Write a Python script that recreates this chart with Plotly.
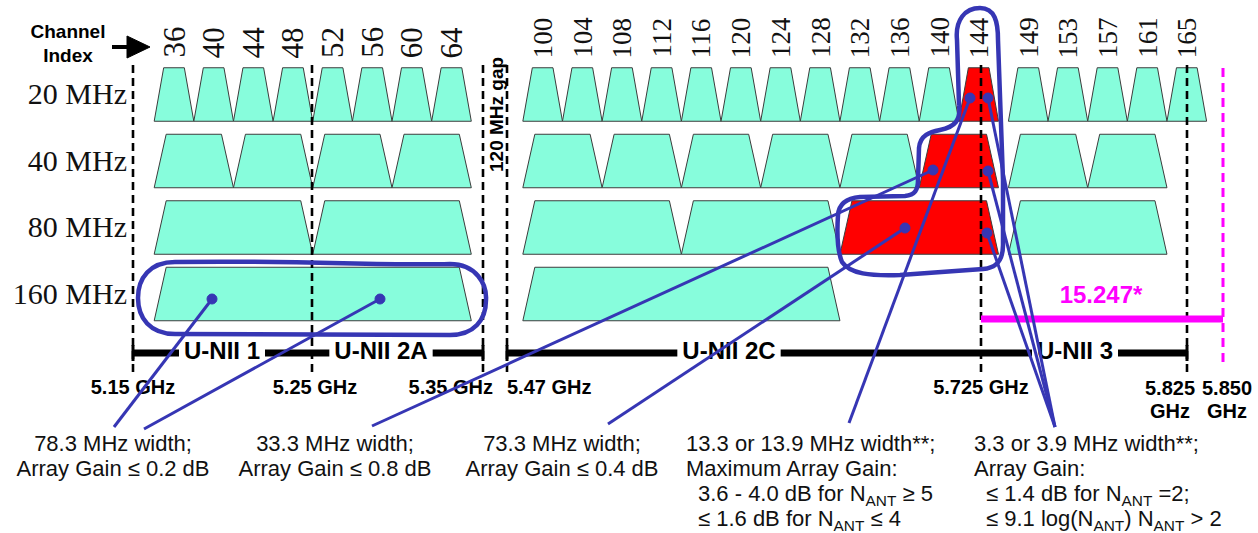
import plotly.graph_objects as go

# ======================= DATA =======================
bandwidths = [20, 40, 80, 160]
row_labels = ["20 MHz", "40 MHz", "80 MHz", "160 MHz"]
ch20 = [36, 40, 44, 48, 52, 56, 60, 64,
        100, 104, 108, 112, 116, 120, 124, 128, 132, 136, 140, 144,
        149, 153, 157, 161, 165]
ch40 = [38, 46, 54, 62, 102, 110, 118, 126, 134, 142, 151, 159]
ch80 = [42, 58, 106, 122, 138, 155]
ch160 = [50, 114]
straddle_channels = [144, 142, 138]          # channels crossing 5.725 GHz (red)
index_labels = ch20
edge_ghz = [5.15, 5.25, 5.35, 5.47, 5.725, 5.825, 5.850]
unii_names = ["U-NII 1", "U-NII 2A", "U-NII 2C", "U-NII 3"]
callout_lines = [
    ["78.3 MHz width;", "Array Gain \u2264 0.2 dB"],
    ["33.3 MHz width;", "Array Gain \u2264 0.8 dB"],
    ["73.3 MHz width;", "Array Gain \u2264 0.4 dB"],
    ["13.3 or 13.9 MHz width**;", "Maximum Array Gain:",
     "3.6 - 4.0 dB for N<sub>ANT</sub> \u2265 5", "\u2264 1.6 dB for N<sub>ANT</sub> \u2264 4"],
    ["3.3 or 3.9 MHz width**;", "Array Gain:",
     "\u2264 1.4 dB for N<sub>ANT</sub> =2;", "\u2264 9.1 log(N<sub>ANT</sub>) N<sub>ANT</sub> > 2"],
]
rule_label = "15.247*"

# ======================= LAYOUT / SCALES =======================
W, H = 1258, 533
PXM = 1.982                      # pixels per MHz on the diagram
X0 = 5180 - 174 / PXM            # diagram MHz at the left edge
GAP = 134                        # MHz removed for the 5.35-5.47 GHz gap
ROW0, ROWSTEP = 94.5, 66.5       # pixel centre of first row, row pitch


def XD(px):
    return X0 + px / PXM


def YD(py):
    return (py - ROW0) / ROWSTEP


def eff(f):
    return f - GAP if f > 5400 else f


HALF = 26.75 / ROWSTEP
CYAN = "#87FDDC"
RED = "#FF0000"
BLUE = "#3636B4"
MAG = "#FF00FF"
SANS = "Liberation Sans, Arial, sans-serif"
SERIF = "Liberation Serif, Times New Roman, serif"

edge_pos = [XD(p) for p in (133, 312, 483, 507, 981, 1187, 1223)]

fig = go.Figure()

# ---- channel trapezoids ----
chan_rows = [ch20, ch40, ch80, ch160]
for i, (bw, chs) in enumerate(zip(bandwidths, chan_rows)):
    inset = (9.5 if bw == 20 else 12.0) / PXM
    for ch in chs:
        c = eff(5000 + 5 * ch)
        xs = [c - bw / 2, c - bw / 2 + inset, c + bw / 2 - inset, c + bw / 2, c - bw / 2]
        ys = [i + HALF, i - HALF, i - HALF, i + HALF, i + HALF]
        fig.add_trace(go.Scatter(
            x=xs, y=ys, mode="lines", fill="toself",
            fillcolor=RED if ch in straddle_channels else CYAN,
            line=dict(color="#3c3c3c", width=1),
            hoverinfo="skip", showlegend=False))


def text(x, y, s, size, color="#111111", family=SANS, pos="middle center"):
    fig.add_trace(go.Scatter(
        x=[x], y=[y], mode="text", text=[s], textposition=pos,
        textfont=dict(size=size, color=color, family=family),
        hoverinfo="skip", showlegend=False, cliponaxis=False))


# ---- row labels ----
for i, lab in enumerate(row_labels):
    text(XD(127), i + 2 / ROWSTEP, lab, 30, "#111111", SERIF, "middle left")
# ---- channel index heading ----
text(XD(68), YD(33), "<b>Channel</b>", 19, "#000")
text(XD(68), YD(57), "<b>Index</b>", 19, "#000")

# ---- band edge labels ----
gl = [f"{g:.2f}" if g in (5.15, 5.25, 5.35, 5.47) else f"{g:.3f}" for g in edge_ghz]
text(edge_pos[0], YD(389), f"<b>{gl[0]} GHz</b>", 20, "#000")
text(edge_pos[1] + 3 / PXM, YD(389), f"<b>{gl[1]} GHz</b>", 20, "#000")
text(edge_pos[2] + 10 / PXM, YD(389), f"<b>{gl[2]} GHz</b>", 20, "#000", pos="middle left")
text(edge_pos[3], YD(389), f"<b>{gl[3]} GHz</b>", 20, "#000", pos="middle right")
text(edge_pos[4], YD(389), f"<b>{gl[4]} GHz</b>", 20, "#000")
text(edge_pos[5] - 17 / PXM, YD(390), f"<b>{gl[5]}</b>", 20, "#000")
text(edge_pos[5] - 17 / PXM, YD(413), "<b>GHz</b>", 20, "#000")
text(edge_pos[6] + 4 / PXM, YD(390), f"<b>{gl[6]}</b>", 20, "#000")
text(edge_pos[6] + 4 / PXM, YD(413), "<b>GHz</b>", 20, "#000")

# ---- U-NII band labels ----
unii_spans = [(edge_pos[0], edge_pos[1]), (edge_pos[1], edge_pos[2]),
              (edge_pos[3], edge_pos[4]), (edge_pos[4], edge_pos[5])]
unii_centres = [XD(222), XD(381), XD(729), XD(1075)]
CW = {'U': .722, '-': .333, 'N': .722, 'I': .278, ' ': .278, '1': .556,
      '2': .556, 'A': .722, 'C': .722, '3': .556}
BAR_Y = YD(353)
for name, cx in zip(unii_names, unii_centres):
    text(cx, BAR_Y, f"<b>{name}</b>", 24, "#000")

# ---- 15.247 label ----
text(XD(1101), YD(297), f"<b>{rule_label}</b>", 24, MAG)

# ---- callout texts ----
centres = [XD(113), XD(335), XD(562)]
for blk, cx in zip(callout_lines[:3], centres):
    for k, line in enumerate(blk):
        text(cx, YD(445 + 25.2 * k), line, 22)
lefts = [XD(686), XD(974)]
for blk, lx in zip(callout_lines[3:], lefts):
    for k, line in enumerate(blk):
        x = lx if k < 2 else lx + 12 / PXM
        text(x, YD(445 + 25.2 * k), line, 22, pos="middle right")

# ---- channel index annotations (rotated) ----
annotations = []
for ch in index_labels:
    annotations.append(dict(
        x=eff(5000 + 5 * ch), y=YD(60), xref="x", yref="y", text=str(ch),
        textangle=-90, showarrow=False, xanchor="center", yanchor="bottom",
        font=dict(family=SERIF, size=31 if ch < 100 else 27, color="#111")))
annotations.append(dict(
    x=XD(496), y=YD(115), xref="x", yref="y", text="<b>120 MHz gap</b>",
    textangle=-90, showarrow=False, xanchor="center", yanchor="middle",
    font=dict(family=SANS, size=19, color="#000")))

shapes = []
# dashed band edges
for p in edge_pos[:6]:
    shapes.append(dict(type="line", x0=p, x1=p, y0=YD(65), y1=YD(372),
                       xref="x", yref="y", layer="above",
                       line=dict(color="#000", width=2.6, dash="8px,5px")))
shapes.append(dict(type="line", x0=edge_pos[6], x1=edge_pos[6], y0=YD(68), y1=YD(368),
                   xref="x", yref="y", layer="above",
                   line=dict(color=MAG, width=3, dash="9px,6px")))
# U-NII bars with gaps for labels
for name, (a, b), cx in zip(unii_names, unii_spans, unii_centres):
    hw = (0.5 * sum(CW.get(c, .6) for c in name) * 24 + 5) / PXM
    for s0, s1 in ((a, cx - hw), (cx + hw, b)):
        shapes.append(dict(type="line", x0=s0, x1=s1, y0=BAR_Y, y1=BAR_Y,
                           xref="x", yref="y", layer="above",
                           line=dict(color="#000", width=7)))
for p in (edge_pos[0], edge_pos[2], edge_pos[3], edge_pos[5]):
    shapes.append(dict(type="line", x0=p, x1=p, y0=YD(345), y1=YD(361),
                       xref="x", yref="y", layer="above",
                       line=dict(color="#000", width=3)))
# 15.247 magenta rule
shapes.append(dict(type="line", x0=edge_pos[4], x1=edge_pos[6], y0=YD(319), y1=YD(319),
                   xref="x", yref="y", layer="above", line=dict(color=MAG, width=7)))
# arrow for Channel Index
shapes.append(dict(type="line", x0=XD(112), x1=XD(130), y0=YD(47), y1=YD(47),
                   xref="x", yref="y", layer="above", line=dict(color="#000", width=4)))
shapes.append(dict(type="path",
                   path=f"M {XD(127)},{YD(36)} L {XD(150)},{YD(47)} L {XD(127)},{YD(58)} Z",
                   xref="x", yref="y", layer="above", fillcolor="#000",
                   line=dict(color="#000", width=1)))


def P(pts):
    out = []
    for tok in pts:
        if isinstance(tok, str):
            out.append(tok)
        else:
            out.append(f"{XD(tok[0]):.3f},{YD(tok[1]):.4f}")
    return " ".join(out)


loop1 = P(["M", (175, 262), "C", (300, 260), (380, 266), (450, 264),
           "C", (476, 264), (487, 284), (486, 300),
           "C", (486, 320), (474, 335), (450, 335),
           "L", (175, 334), "C", (150, 334), (138, 318), (138, 298),
           "C", (138, 278), (150, 262), (175, 262), "Z"])
loop2 = P(["M", (959, 105), "L", (957, 40),
           "C", (955, 20), (965, 8), (980, 8),
           "C", (995, 8), (998, 22), (998, 40),
           "L", (1003, 180), "L", (1003, 245),
           "C", (1003, 262), (995, 268), (983, 269),
           "L", (900, 275),
           "C", (870, 276), (850, 274), (842, 262),
           "C", (837, 250), (837, 230), (838, 215),
           "C", (839, 203), (848, 198), (860, 197),
           "L", (905, 196),
           "C", (915, 195), (918, 190), (918, 180),
           "L", (919, 148),
           "C", (920, 135), (930, 132), (940, 130),
           "C", (955, 127), (961, 120), (959, 105)])
for path in (loop1, loop2):
    shapes.append(dict(type="path", path=path, xref="x", yref="y", layer="above",
                       line=dict(color=BLUE, width=4.5)))

callouts = [((212, 299), (114, 427)), ((380, 299), (144, 429)),
            ((933, 170), (372, 426)), ((905, 228), (608, 424)),
            ((970, 98), (849, 423)), ((988, 98), (1055, 427)),
            ((988, 171), (1055, 427)), ((987, 233), (1055, 427))]
for (a, b) in callouts:
    shapes.append(dict(type="line", x0=XD(a[0]), y0=YD(a[1]), x1=XD(b[0]), y1=YD(b[1]),
                       xref="x", yref="y", layer="above",
                       line=dict(color=BLUE, width=3)))
for (a, _) in callouts:
    shapes.append(dict(type="circle", x0=XD(a[0] - 5), x1=XD(a[0] + 5),
                       y0=YD(a[1] - 5), y1=YD(a[1] + 5), xref="x", yref="y",
                       layer="above", fillcolor=BLUE, line=dict(color=BLUE, width=1)))

fig.update_layout(
    width=W, height=H, margin=dict(l=0, r=0, t=0, b=0),
    paper_bgcolor="white", plot_bgcolor="white",
    xaxis=dict(range=[XD(0), XD(W)], visible=False, fixedrange=True),
    yaxis=dict(range=[YD(H), YD(0)], visible=False, fixedrange=True),
    shapes=shapes, annotations=annotations, showlegend=False, hovermode=False)

fig.write_html(
    "out.html",
    config={"displayModeBar": False},
    post_script="document.body.style.margin='0';document.body.style.padding='0';"
                "document.documentElement.style.overflow='hidden';")
